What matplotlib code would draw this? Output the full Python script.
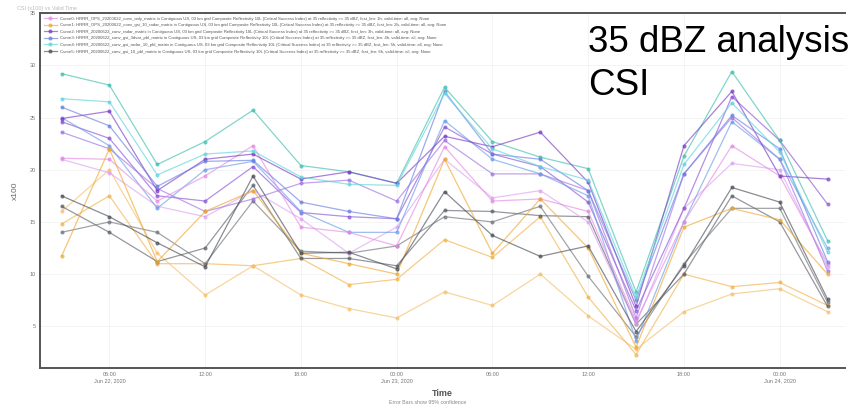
import numpy as np
import pandas as pd
import matplotlib
matplotlib.use("Agg")
import matplotlib.pyplot as plt
import matplotlib.dates as mdates

plt.rcParams['font.family'] = ['Liberation Sans', 'DejaVu Sans']

# valid times, every 3 h
times = pd.date_range("2020-06-22 03:00", periods=17, freq="3h")

# CSI (x100) per curve
teal_a = [29.2, 28.1, 20.5, 22.7, 25.7, 20.4, 19.8, 18.7, 27.9, 22.7, 21.2, 20.1, 8.3, 21.3, 29.4, 22.8, 13.2]
teal_b = [26.8, 26.5, 19.5, 21.5, 21.8, 19.3, 18.6, 18.5, 27.3, 22.0, 20.3, 19.0, 7.8, 20.5, 26.4, 21.7, 12.1]
blue_a = [26.0, 24.2, 18.4, 20.8, 20.9, 16.9, 16.0, 15.3, 27.5, 21.5, 21.0, 18.0, 7.5, 19.6, 25.2, 22.0, 11.2]
blue_b = [25.0, 22.3, 16.3, 20.0, 20.8, 16.0, 14.0, 14.0, 24.7, 21.0, 19.6, 17.5, 3.6, 15.0, 24.6, 21.0, 12.5]
purple_a = [24.9, 25.6, 18.0, 21.0, 21.5, 19.1, 19.8, 18.7, 23.2, 22.2, 23.6, 18.8, 6.9, 22.3, 27.5, 19.4, 19.1]
purple_b = [24.6, 23.0, 17.5, 17.0, 20.3, 15.9, 15.5, 15.3, 24.1, 21.5, 20.3, 16.9, 6.5, 16.3, 27.0, 22.8, 16.7]
purple_c = [23.6, 22.0, 18.2, 16.0, 17.2, 18.7, 19.0, 17.0, 22.8, 19.6, 19.6, 18.0, 5.8, 19.6, 25.0, 21.0, 10.3]
pink_a = [21.1, 21.0, 17.0, 19.4, 22.3, 14.5, 14.0, 12.7, 22.2, 17.0, 17.2, 16.0, 5.5, 15.0, 22.3, 19.4, 11.0]
pink_b = [21.0, 19.7, 16.5, 15.5, 18.0, 15.3, 12.0, 14.5, 21.0, 17.3, 18.0, 15.0, 5.2, 16.3, 20.6, 20.0, 10.7]
orange_a = [11.7, 22.0, 11.2, 16.0, 18.0, 12.0, 11.0, 10.0, 21.0, 12.0, 17.2, 12.5, 3.0, 14.5, 16.3, 15.2, 10.0]
orange_b = [14.8, 17.5, 11.0, 11.0, 10.8, 11.5, 9.0, 9.5, 13.3, 11.6, 15.5, 7.8, 2.3, 10.0, 8.8, 9.2, 7.0]
orange_c = [16.0, 20.0, 12.0, 8.0, 10.8, 8.0, 6.7, 5.8, 8.3, 7.0, 10.0, 6.0, 2.8, 6.4, 8.1, 8.6, 6.4]
dark_a = [17.5, 15.5, 13.0, 10.7, 19.4, 12.0, 12.1, 10.5, 17.9, 13.7, 11.7, 12.7, 4.5, 10.8, 18.3, 16.9, 7.6]
dark_b = [16.5, 14.0, 11.2, 12.5, 18.5, 11.5, 11.5, 10.8, 16.1, 16.0, 15.6, 15.5, 5.2, 10.0, 17.5, 15.0, 6.9]
dark_c = [14.0, 15.0, 14.0, 11.0, 17.0, 12.2, 12.0, 12.7, 15.5, 15.0, 16.5, 9.8, 4.0, 11.0, 16.3, 16.3, 7.3]

curve_labels = [
    "Curve0: HRRR_OPS_20200622_conv_only_matrix in Contiguous US, 03 km grid Composite Reflectivity 10L (Critical Success Index) at 35 reflectivity >= 35 dBZ, fcst_len: 1h, valid-time: all, avg: None",
    "Curve1: HRRR_OPS_20200622_conv_gsi_10_radar_matrix in Contiguous US, 03 km grid Composite Reflectivity 10L (Critical Success Index) at 35 reflectivity >= 35 dBZ, fcst_len: 2h, valid-time: all, avg: None",
    "Curve2: HRRR_20200622_conv_radar_matrix in Contiguous US, 03 km grid Composite Reflectivity 10L (Critical Success Index) at 35 reflectivity >= 35 dBZ, fcst_len: 3h, valid-time: all, avg: None",
    "Curve3: HRRR_20200622_conv_gsi_3dvar_pbl_matrix in Contiguous US, 03 km grid Composite Reflectivity 10L (Critical Success Index) at 35 reflectivity >= 35 dBZ, fcst_len: 4h, valid-time: all, avg: None",
    "Curve4: HRRR_20200622_conv_gsi_radar_10_pbl_matrix in Contiguous US, 03 km grid Composite Reflectivity 10L (Critical Success Index) at 35 reflectivity >= 35 dBZ, fcst_len: 5h, valid-time: all, avg: None",
    "Curve5: HRRR_20200622_conv_gsi_10_pbl_matrix in Contiguous US, 03 km grid Composite Reflectivity 10L (Critical Success Index) at 35 reflectivity >= 35 dBZ, fcst_len: 6h, valid-time: all, avg: None",
]

tick_times = pd.date_range("2020-06-22 06:00", periods=8, freq="6h")
tick_labels = ["06:00\nJun 22, 2020", "12:00", "18:00", "00:00\nJun 23, 2020",
               "06:00", "12:00", "18:00", "00:00\nJun 24, 2020"]

fig = plt.figure(figsize=(8.56, 4.09), dpi=100)
ax = fig.add_axes([0.047, 0.100, 0.940, 0.868])

# (values, colour, legend label or None)
lines = [
    (orange_b, "#f2b24a", None),
    (orange_c, "#f5bf6a", None),
    (dark_b, "#5c6168", None),
    (dark_c, "#707478", None),
    (pink_b, "#dca2f0", None),
    (purple_b, "#8a55d8", None),
    (purple_c, "#9e72e4", None),
    (blue_b, "#6c9ce8", None),
    (teal_a, "#3fbfae", None),
    (pink_a, "#e48be4", curve_labels[0]),
    (orange_a, "#f0a830", curve_labels[1]),
    (purple_a, "#7a3cc6", curve_labels[2]),
    (blue_a, "#6a7fe0", curve_labels[3]),
    (teal_b, "#5fd4dc", curve_labels[4]),
    (dark_a, "#4a4e58", curve_labels[5]),
]

handles = {}
for vals, col, lab in lines:
    ln, = ax.plot(times, vals, color=col, lw=0.9, alpha=0.65,
                  marker="o", ms=2.0, mec=col, mfc=col)
    if lab:
        handles[lab] = ln

ax.legend([handles[l] for l in curve_labels], curve_labels, loc="upper left",
          fontsize=3.1, frameon=False, handlelength=3, borderaxespad=0.4,
          labelspacing=0.6, labelcolor="#555555")

ax.set_ylim(1, 35)
ax.set_yticks([5, 10, 15, 20, 25, 30, 35])
ax.set_xlim(pd.Timestamp("2020-06-22 01:40"), pd.Timestamp("2020-06-24 04:05"))
ax.set_xticks(tick_times)
ax.set_xticklabels(tick_labels)
ax.tick_params(labelsize=4, colors="#777777", length=0, pad=3)
ax.grid(True, color="#f2f2f2", lw=0.6)

for side in ["left", "bottom", "top"]:
    ax.spines[side].set_color("#555555")
    ax.spines[side].set_linewidth(1.4)
ax.spines["right"].set_visible(False)

ax.set_ylabel("x100", fontsize=6, color="#666666", labelpad=8)
ax.set_xlabel("Time", fontsize=6.5, color="#555555", labelpad=4, fontweight="bold")
fig.text(0.5, 0.012, "Error Bars show 95% confidence", fontsize=3.8, color="#888888", ha="center")
fig.text(0.02, 0.985, "CSI (x100) vs Valid Time", fontsize=4, color="#bbbbbb", va="top")

fig.text(0.687, 0.94, "35 dBZ analysis\nCSI", fontsize=26.5, color="black",
         va="top", ha="left", linespacing=1.3)

plt.savefig("out.png", dpi=100)
